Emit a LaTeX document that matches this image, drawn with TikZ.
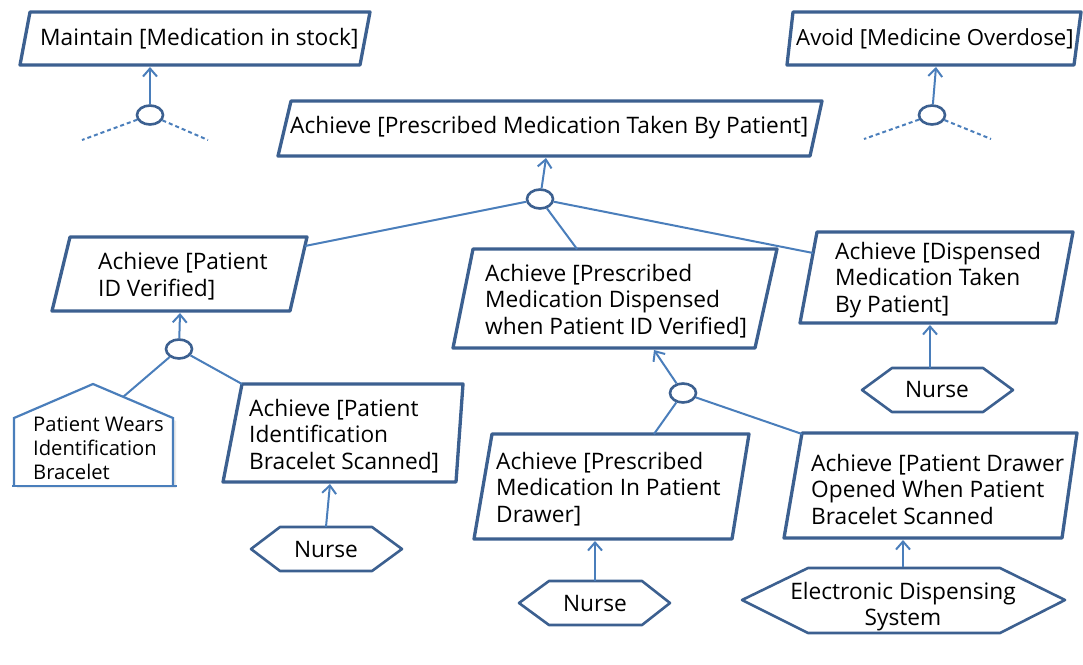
\documentclass[tikz,border=0pt]{standalone}
\usepackage{fontspec}
\setmainfont{Open Sans}
\usetikzlibrary{arrows.meta,shapes.geometric}
\definecolor{boxblue}{HTML}{3C6090}
\definecolor{linkblue}{HTML}{4A7EBB}
\tikzset{
  goalbox/.style={draw=boxblue, line width=3.3pt, line join=round, fill=white},
  agentbox/.style={draw=boxblue, line width=2.6pt, line join=round, fill=white},
  domprop/.style={draw=linkblue, line width=2.2pt, line join=miter, fill=white},
  opnode/.style={draw=boxblue, line width=2.6pt, fill=white, ellipse,
    minimum width=26pt, minimum height=19pt, inner sep=0pt},
  link/.style={draw=linkblue, line width=2pt},
  uplink/.style={link, -{Straight Barb[length=8pt,width=14pt]}},
  openlink/.style={link, dash pattern=on 4pt off 3pt},
  txt/.style={inner sep=0pt, font=\fontsize{22.7}{26.5}\selectfont, align=left, anchor=west},
  agtxt/.style={inner sep=0pt, font=\fontsize{22.7}{26}\selectfont, align=center},
}
\begin{document}
\begin{tikzpicture}[x=1pt,y=-1pt]
\useasboundingbox (0,0) rectangle (1083,664);

% ---- goals ----
\draw[goalbox] (30,12) -- (370,12) -- (360,65) -- (20,65) -- cycle;
\node[txt] (maint) at (40,39) {Maintain [Medication in stock]};
\coordinate (maint-in) at (150,67);

\draw[goalbox] (793,12) -- (1081,12) -- (1074,65) -- (787,65) -- cycle;
\node[txt, font=\fontsize{22.2}{26.5}\selectfont] (avoid) at (796,39) {Avoid [Medicine Overdose]};
\coordinate (avoid-in) at (936,67);

\draw[goalbox] (291,101) -- (822,101) -- (810,156) -- (278,156) -- cycle;
\node[txt] (taken) at (290,128) {Achieve [Prescribed Medication Taken By Patient]};
\coordinate (taken-in) at (546,158);

\draw[goalbox] (70,237) -- (307,237) -- (290,311) -- (52,311) -- cycle;
\node[txt] (pid) at (98,276) {Achieve [Patient\\ID Verified]};
\coordinate (pid-in) at (180,313);
\coordinate (pid-up) at (305,246);

\draw[goalbox] (473,249) -- (777,249) -- (755,348) -- (453,348) -- cycle;
\node[txt] (disp) at (485,301) {Achieve [Prescribed\\Medication Dispensed\\when Patient ID Verified]};
\coordinate (disp-in) at (654,350);
\coordinate (disp-up) at (577,249);

\draw[goalbox] (817,232) -- (1073,232) -- (1056,323) -- (800,323) -- cycle;
\node[txt] (dtaken) at (835,280) {Achieve [Dispensed\\Medication Taken\\By Patient]};
\coordinate (dtaken-in) at (930,325);
\coordinate (dtaken-up) at (813,253);

\draw[goalbox] (242,384) -- (463,384) -- (456,482) -- (223,482) -- cycle;
\node[txt] (scan) at (249,436) {Achieve [Patient\\Identification\\Bracelet Scanned]};
\coordinate (scan-in) at (330,484);
\coordinate (scan-up) at (242,384);

\draw[goalbox] (492,434) -- (749,434) -- (732,539) -- (474,539) -- cycle;
\node[txt] (drawer) at (496,489) {Achieve [Prescribed\\Medication In Patient\\Drawer]};
\coordinate (drawer-in) at (595,541);
\coordinate (drawer-up) at (654,434);

\draw[goalbox] (802,433) -- (1077,433) -- (1062,538) -- (784,538) -- cycle;
\node[txt] (opened) at (811,489) {Achieve [Patient Drawer\\Opened When Patient\\Bracelet Scanned};
\coordinate (opened-in) at (903,540);
\coordinate (opened-up) at (802,434);

% ---- domain property ----
\fill[black!8] (17,421) -- (96,387) -- (176,421) -- (176,488) -- (17,488) -- cycle;
\fill[white] (14,418) -- (93,384) -- (173,418) -- (173,485) -- (14,485) -- cycle;
\draw[domprop] (14,485) -- (14,418) -- (93,384) -- (173,418) -- (173,485);
\draw[domprop] (12,486) -- (177,486);
\node[inner sep=0pt, font=\fontsize{20.2}{24}\selectfont, align=left, anchor=west]
  (bracelet) at (33,448) {Patient Wears\\Identification\\Bracelet};
\coordinate (bracelet-up) at (123,397);

% ---- agents ----
\draw[agentbox] (251,549) -- (280,527) -- (372,527) -- (402,549) -- (372,571) -- (280,571) -- cycle;
\node[agtxt, minimum height=44pt] (nurseA) at (326,549) {Nurse};

\draw[agentbox] (862,390) -- (892,368) -- (983,368) -- (1013,390) -- (983,412) -- (892,412) -- cycle;
\node[agtxt, minimum height=44pt] (nurseB) at (937,390) {Nurse};

\draw[agentbox] (519,603) -- (549,581) -- (642,581) -- (670,603) -- (642,625) -- (549,625) -- cycle;
\node[agtxt, minimum height=44pt] (nurseC) at (595,603) {Nurse};

\draw[agentbox] (742,600) -- (808,568) -- (1000,568) -- (1065,600) -- (1000,633) -- (808,633) -- cycle;
\node[agtxt, minimum height=79pt] (eds) at (903,607) {Electronic Dispensing\\System};

% ---- refinement nodes ----
\node[opnode] (opMaint) at (150,115) {};
\node[opnode] (opAvoid) at (932,115) {};
\node[opnode] (opTaken) at (540,199) {};
\node[opnode] (opPid) at (179,349) {};
\node[opnode] (opDisp) at (683,393) {};

\coordinate (mL) at (82,140);  \coordinate (mR) at (208,140);
\coordinate (aL) at (864,139); \coordinate (aR) at (991,139);

% ---- connectors ----
\draw[uplink] (opMaint) -- (maint-in);
\draw[openlink] (opMaint) -- (mL);
\draw[openlink] (opMaint) -- (mR);

\draw[uplink] (opAvoid) -- (avoid-in);
\draw[openlink] (opAvoid) -- (aL);
\draw[openlink] (opAvoid) -- (aR);

\draw[uplink] (opTaken) -- (taken-in);
\draw[link] (opTaken) -- (pid-up);
\draw[link] (opTaken) -- (disp-up);
\draw[link] (opTaken) -- (dtaken-up);

\draw[uplink] (opPid) -- (pid-in);
\draw[link] (opPid) -- (bracelet-up);
\draw[link] (opPid) -- (scan-up);

\draw[uplink] (opDisp) -- (disp-in);
\draw[link] (opDisp) -- (drawer-up);
\draw[link] (opDisp) -- (opened-up);

\draw[uplink] (nurseA.north) -- (scan-in);
\draw[uplink] (nurseB.north -| dtaken-in) -- (dtaken-in);
\draw[uplink] (nurseC.north) -- (drawer-in);
\draw[uplink] (eds.north) -- (opened-in);
\end{tikzpicture}
\end{document}
